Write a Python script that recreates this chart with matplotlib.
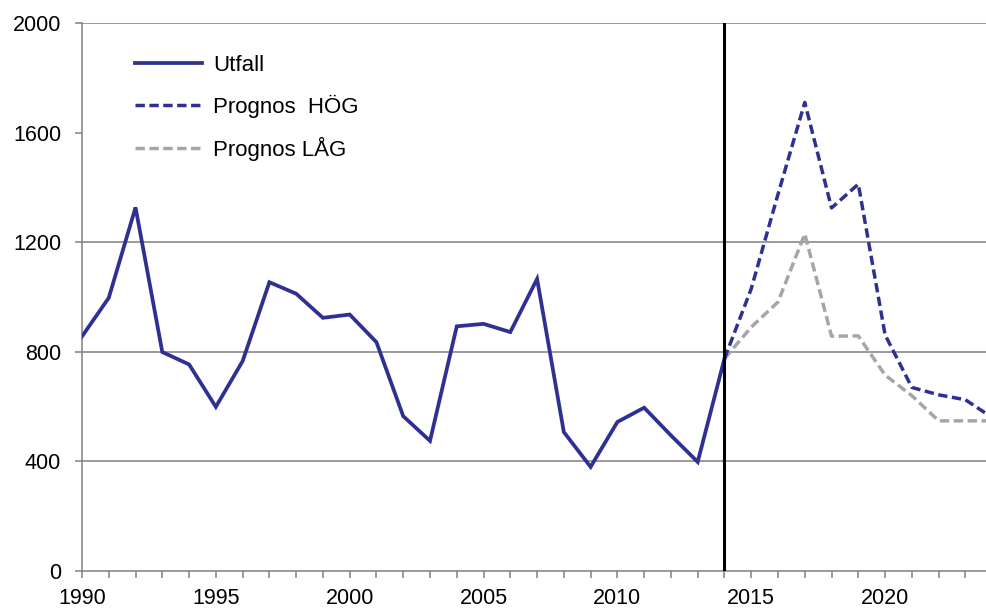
import matplotlib
matplotlib.use("Agg")
import matplotlib.pyplot as plt

plt.rcParams['font.family'] = ['Liberation Sans', 'DejaVu Sans']

# Data
years_utfall = list(range(1990, 2015))
utfall = [856, 997, 1327, 799, 754, 599, 766, 1054, 1012, 924, 936, 835,
          565, 475, 893, 902, 872, 1066, 507, 380, 544, 596, 495, 398, 775]
years_prognos = list(range(2014, 2025))
prognos_hog = [775, 1030, 1375, 1710, 1325, 1412, 862, 670, 643, 625, 560]
prognos_lag = [775, 890, 982, 1230, 857, 858, 715, 640, 548, 548, 548]
yticks = [0, 400, 800, 1200, 1600, 2000]
gridlines = [400, 800, 1200, 2000]
xtick_labels = [1990, 1995, 2000, 2005, 2010, 2015, 2020]
divider_year = 2014

navy = '#2E3192'
grey = '#A6A6A6'
axis_grey = '#808080'

fig = plt.figure(figsize=(9.86, 6.08), dpi=100)
ax = fig.add_axes([82/986, 1 - 571/608, (986 - 82)/986, (571 - 23)/608])

for g in gridlines:
    ax.axhline(g, color=axis_grey, lw=1.1, zorder=1)

ax.plot(years_utfall, utfall, color=navy, lw=2.7, label='Utfall', zorder=3,
        solid_joinstyle='miter')
ax.plot(years_prognos, prognos_hog, color=navy, lw=2.5, linestyle=(0, (2.7, 1.3)),
        label='Prognos  HÖG', zorder=3)
ax.plot(years_prognos, prognos_lag, color=grey, lw=2.5, linestyle=(0, (2.7, 1.3)),
        label='Prognos LÅG', zorder=2)
ax.axvline(divider_year, color='black', lw=2.2, zorder=4)

ax.set_xlim(1990, 2023.77)
ax.set_ylim(0, 2000)
ax.set_yticks(yticks)
ax.set_yticklabels([str(v) for v in yticks])
ax.set_xticks(list(range(1990, 2024)))
ax.set_xticklabels([str(y) if y in xtick_labels else '' for y in range(1990, 2024)])

for s in ['top', 'right']:
    ax.spines[s].set_visible(False)
for s in ['left', 'bottom']:
    ax.spines[s].set_color(axis_grey)
    ax.spines[s].set_linewidth(1.1)

ax.tick_params(axis='both', colors=axis_grey, direction='out', length=5, width=1.1,
               labelsize=15.5, labelcolor='black')
ax.tick_params(axis='y', pad=10)
ax.tick_params(axis='x', pad=7)

leg = ax.legend(loc='upper left', bbox_to_anchor=(0.0365, 0.978), frameon=False,
                fontsize=16, handlelength=3.0, handletextpad=0.5,
                labelspacing=0.85)

fig.savefig('out.png', dpi=100)
